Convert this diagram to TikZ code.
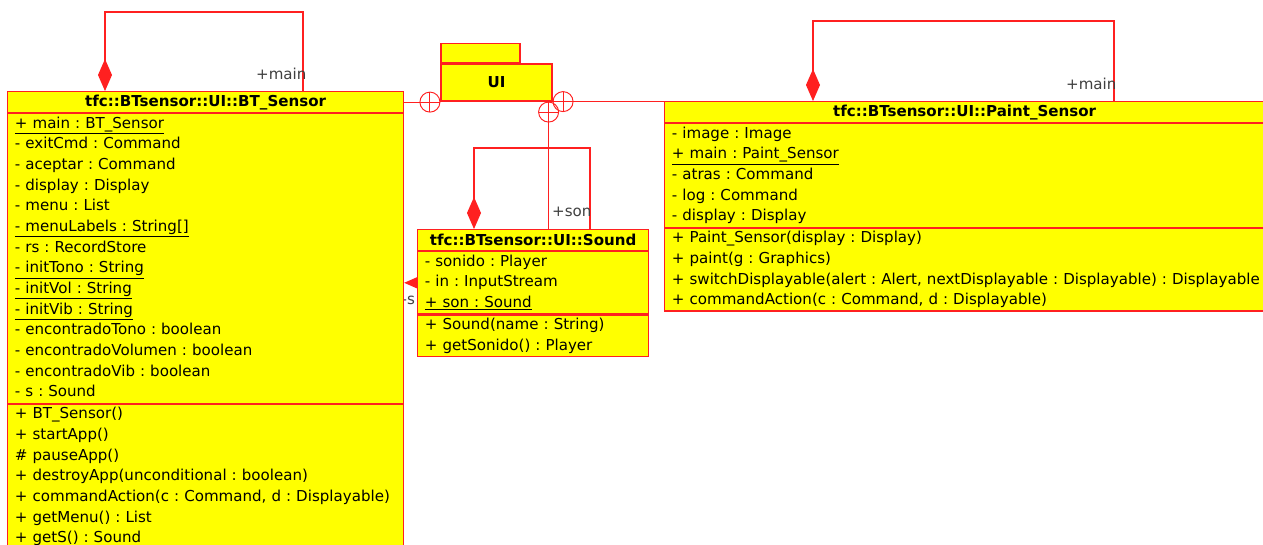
\documentclass[tikz,border=0pt]{standalone}
\usepackage{fontspec}
\setmainfont{DejaVu Sans}
\frenchspacing
\usetikzlibrary{arrows.meta, positioning, calc, backgrounds}
\definecolor{umlyellow}{RGB}{255,255,0}
\definecolor{umlred}{RGB}{255,32,32}
\definecolor{labelgray}{RGB}{64,64,64}
\tikzset{
  cls/.style={
    draw=umlred,
    fill=umlyellow,
    line width=0.9pt,
    inner xsep=5.5pt,
    inner ysep=0pt,
    font=\fontsize{11.3}{15.5}\selectfont
  },
  clstitle/.style={cls, align=center, minimum height=15.75pt, font=\fontsize{11.3}{15.5}\selectfont\bfseries},
  members/.style={cls, align=left, execute at begin node=\strut, execute at end node=\strut},
  pkg/.style={draw=umlred, fill=umlyellow, line width=0.9pt, inner sep=0pt, font=\fontsize{11.3}{13}\selectfont\bfseries},
  assoc/.style={draw=umlred, line width=0.9pt},
  comp/.style={assoc, {Diamond[length=24pt, width=10.5pt]}-},
  contain/.style={circle, draw=umlred, line width=0.7pt, minimum size=15pt, inner sep=0pt,
    path picture={\draw[umlred, line width=0.7pt]
      (path picture bounding box.north) -- (path picture bounding box.south)
      (path picture bounding box.west) -- (path picture bounding box.east);}},
  role/.style={font=\fontsize{11.3}{13}\selectfont, text=labelgray, inner sep=0pt}
}

\begin{document}
\begin{tikzpicture}[x=0.75pt, y=-0.75pt]
  \useasboundingbox (0,0) rectangle (1263,544);

  % BT_Sensor
  \node[clstitle, text width=286pt, anchor=north west] (bttitle) at (7,91) {tfc::BTsensor::UI::BT\_Sensor};
  \node[members, text width=286pt, below=0pt of bttitle] (btattr) {\underline{+ main : BT\_Sensor}\\
    - exitCmd : Command\\
    - aceptar : Command\\
    - display : Display\\
    - menu : List\\
    \underline{- menuLabels : String[]}\\
    - rs : RecordStore\\
    \underline{- initTono : String}\\
    \underline{- initVol : String}\\
    \underline{- initVib : String}\\
    - encontradoTono : boolean\\
    - encontradoVolumen : boolean\\
    - encontradoVib : boolean\\
    - s : Sound};
  \node[members, text width=286pt, below=0pt of btattr] (btops) {+ BT\_Sensor()\\
    + startApp()\\
    \# pauseApp()\\
    + destroyApp(unconditional : boolean)\\
    + commandAction(c : Command, d : Displayable)\\
    + getMenu() : List\\
    + getS() : Sound};

  % Sound
  \node[clstitle, text width=162.25pt, anchor=north west] (soundtitle) at (417,229) {tfc::BTsensor::UI::Sound};
  \node[members, text width=162.25pt, below=0pt of soundtitle] (soundattr) {- sonido : Player\\
    - in : InputStream\\
    \underline{+ son : Sound}};
  \node[members, text width=162.25pt, below=0pt of soundattr] (soundops) {+ Sound(name : String)\\
    + getSonido() : Player};

  % Paint_Sensor
  \node[clstitle, text width=439pt, anchor=north west] (painttitle) at (664,101) {tfc::BTsensor::UI::Paint\_Sensor};
  \node[members, text width=439pt, below=0pt of painttitle] (paintattr) {- image : Image\\
    \underline{+ main : Paint\_Sensor}\\
    - atras : Command\\
    - log : Command\\
    - display : Display};
  \node[members, text width=439pt, below=0pt of paintattr] (paintops) {+ Paint\_Sensor(display : Display)\\
    + paint(g : Graphics)\\
    + \mbox{switchDisplayable(alert : Alert, nextDisplayable : Displayable) : Displayable}\\
    + commandAction(c : Command, d : Displayable)};

  % package
  \node[pkg, minimum width=83.25pt, minimum height=27.75pt] (ui) at (496.5,82.5) {UI};
  \node[pkg, minimum width=59.25pt, minimum height=14.25pt, anchor=south west] (uitab) at (ui.north west) {};
  \coordinate (uisocket) at ($(ui.south east)+(-4,0)$);

  % self associations
  \draw[comp] ($(bttitle.north west)+(98,0)$) -- ++(0,-79) -| ($(bttitle.north west)+(296,0)$)
    node[role, at end, anchor=east, xshift=3pt, yshift=12.75pt] {+main};
  \draw[comp] ($(soundtitle.north west)+(57,0)$) -- ++(0,-81) -| ($(soundtitle.north west)+(173,0)$)
    node[role, at end, anchor=east, xshift=1.5pt, yshift=12.75pt] {+son};
  \draw[comp] ($(painttitle.north west)+(149,0)$) -- ++(0,-80) -| ($(painttitle.north west)+(450,0)$)
    node[role, at end, anchor=east, xshift=2.25pt, yshift=12.75pt] {+main};

  % containment in UI
  \draw[assoc] (bttitle.east) -- (bttitle.east -| ui.west) node[contain, at end, anchor=east] {};
  \draw[assoc] (ui.south east) -- (ui.south east -| painttitle.west) node[contain, at start, anchor=west] {};
  \draw[assoc] (soundtitle.north -| uisocket) -- (uisocket) node[contain, at end, anchor=north] {};

  \begin{scope}[on background layer]
    \fill[white] (0,0) rectangle (1263,544);
    \draw[assoc, -{Diamond[length=24pt, width=10.5pt]}] (soundattr.west) -- (soundattr.west -| btattr.east)
      node[role, at end, xshift=3pt, yshift=-13.5pt] {-s};
  \end{scope}
\end{tikzpicture}
\end{document}
